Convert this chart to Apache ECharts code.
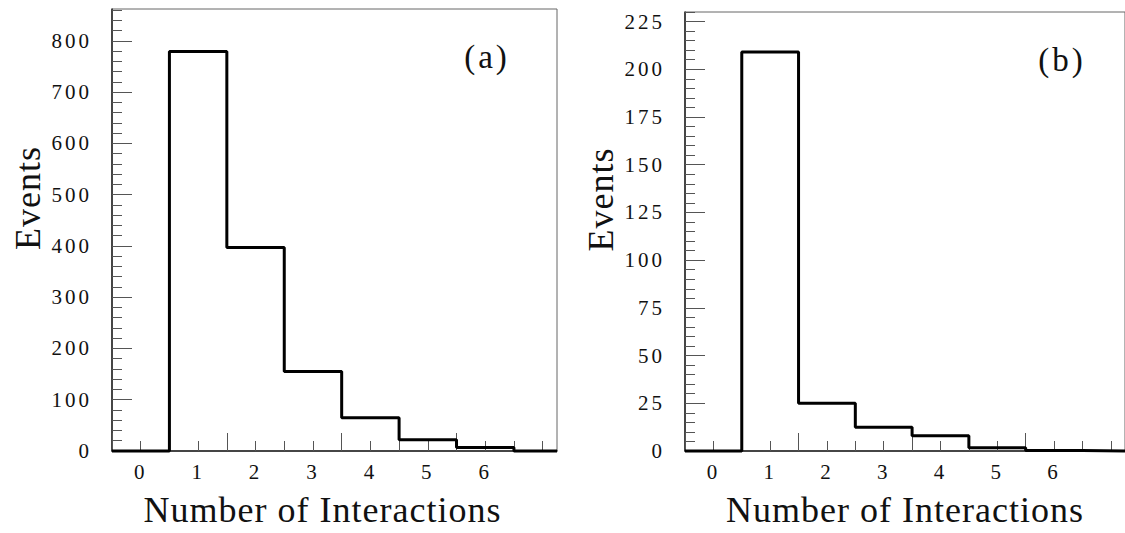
<!DOCTYPE html>
<html>
<head>
<meta charset="utf-8">
<script src="https://cdn.jsdelivr.net/npm/echarts@6/dist/echarts.min.js"></script>
<style>
  html, body { margin: 0; padding: 0; background: #fff; }
  #main { width: 1125px; height: 533px; }
  /* the original is set in a spaced-out serif */
  #main text { letter-spacing: 3px; }
  #main text[style*="36px"] { letter-spacing: 1px; }
</style>
</head>
<body>
<div id="main"></div>
<script>
// number of interactions per bin (last bin is cut by the frame)
const bins = [0, 1, 2, 3, 4, 5, 6, 7]
const eventsA = [0, 779, 397, 155, 65, 22, 7, 0]
const eventsB = [0, 209, 25, 12.5, 8, 1.7, 0.3, 0]

const xLabels = [0, 1, 2, 3, 4, 5, 6]
const yLabelsA = [0, 100, 200, 300, 400, 500, 600, 700, 800]
const yLabelsB = [0, 25, 50, 75, 100, 125, 150, 175, 200, 225]

const xMin = -0.5
const xMax = 7.25
const yMaxA = 862
const yMaxB = 230

const font = "'Liberation Serif', 'Times New Roman', serif"

function range(a, b, step) {
  const out = []
  for (let v = a; v <= b + 1e-9; v += step) out.push(+v.toFixed(3))
  return out
}

// histogram outline: one point per bin left edge, step drawn at the next edge
function steps(values) {
  const pts = values.map((v, i) => [bins[i] - 0.5, v])
  pts.push([xMax, values[values.length - 1]])
  return pts
}

function xAxes(gridIndex, shift) {
  return [
    {
      type: 'value', gridIndex, min: xMin, max: xMax,
      axisLine: { onZero: false, lineStyle: { color: '#222', width: 1.5 } },
      axisTick: { inside: true, length: 10, customValues: range(-0.5, 7, 0.5), lineStyle: { color: '#555' } },
      axisLabel: { customValues: xLabels, margin: 10, color: '#111', fontFamily: font, fontSize: 21 },
      splitLine: { show: false },
      name: 'Number of Interactions', nameLocation: 'middle', nameGap: 41,
      nameTextStyle: { color: '#111', fontFamily: font, fontSize: 36, padding: [0, shift, 0, 0] },
    },
    {
      type: 'value', gridIndex, position: 'bottom', min: xMin, max: xMax,
      axisLine: { show: false, onZero: false },
      axisTick: { inside: true, length: 18, customValues: [-0.5, 1.5, 3.5, 5.5], lineStyle: { color: '#555' } },
      axisLabel: { show: false },
      splitLine: { show: false },
    },
  ]
}

function yAxes(gridIndex, yMax, labels, minorStep) {
  return [
    {
      type: 'value', gridIndex, min: 0, max: yMax,
      axisLine: { onZero: false, lineStyle: { color: '#222', width: 1.5 } },
      axisTick: { inside: true, length: 20, customValues: labels, lineStyle: { color: '#555' } },
      axisLabel: { customValues: labels, margin: 20, color: '#111', fontFamily: font, fontSize: 21 },
      splitLine: { show: false },
      name: 'Events', nameLocation: 'middle', nameGap: 66,
      nameTextStyle: { color: '#111', fontFamily: font, fontSize: 36, padding: [0, 0, 0, 64] },
    },
    {
      type: 'value', gridIndex, position: 'left', min: 0, max: yMax,
      axisLine: { show: false, onZero: false },
      axisTick: { inside: true, length: 10, customValues: range(0, yMax, minorStep), lineStyle: { color: '#555' } },
      axisLabel: { show: false },
      splitLine: { show: false },
    },
  ]
}

const myChart = echarts.init(document.getElementById('main'), null, { renderer: 'svg' })
const option = {
  animation: false,
  backgroundColor: '#fff',
  grid: [
    { left: 112, top: 9, right: 568, bottom: 80, show: true, borderColor: '#666', borderWidth: 1 },
    { left: 685, top: 12, right: -3, bottom: 80, show: true, borderColor: '#666', borderWidth: 1 },
  ],
  xAxis: [...xAxes(0, 24), ...xAxes(1, 0)],
  yAxis: [...yAxes(0, yMaxA, yLabelsA, 20), ...yAxes(1, yMaxB, yLabelsB, 5)],
  graphic: [
    { type: 'text', x: 487, y: 57, style: { text: '(a)', font: '33px ' + font, fill: '#111', align: 'center', verticalAlign: 'middle' } },
    { type: 'text', x: 1062, y: 60, style: { text: '(b)', font: '33px ' + font, fill: '#111', align: 'center', verticalAlign: 'middle' } },
  ],
  series: [
    {
      type: 'line', xAxisIndex: 0, yAxisIndex: 0, data: steps(eventsA), step: 'end',
      symbol: 'none', clip: false, z: 5, lineStyle: { color: '#000', width: 3 },
    },
    {
      type: 'line', xAxisIndex: 2, yAxisIndex: 2, data: steps(eventsB), step: 'end',
      symbol: 'none', clip: false, z: 5, lineStyle: { color: '#000', width: 3 },
    },
  ],
}
option && myChart.setOption(option)
</script>
</body>
</html>
